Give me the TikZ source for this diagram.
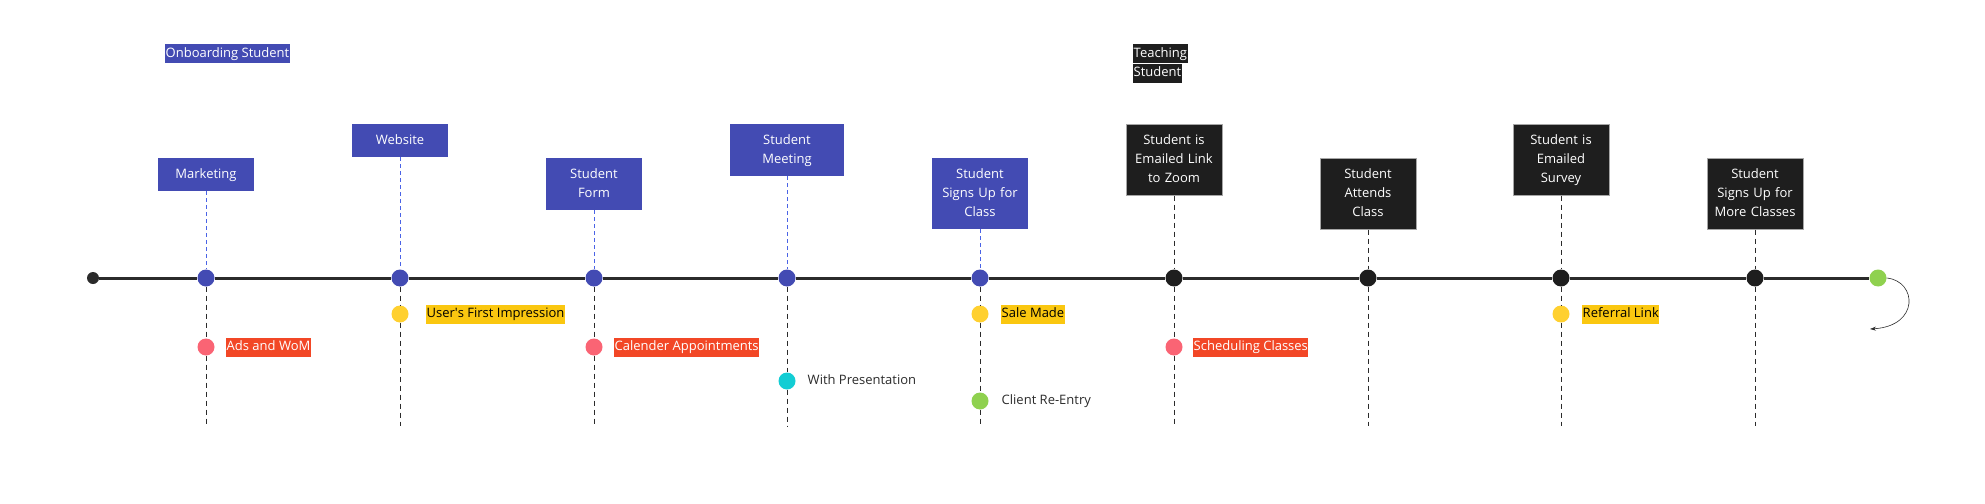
\documentclass[tikz,border=0pt]{standalone}
\usepackage{fontspec}
\setmainfont{Open Sans}
\usetikzlibrary{arrows.meta}
\definecolor{miroblue}{HTML}{434BB3}
\definecolor{dashblue}{HTML}{4A63E6}
\definecolor{boxblack}{HTML}{1E1E1E}
\definecolor{linegray}{HTML}{2B2B2B}
\definecolor{hlyellow}{HTML}{FAC710}
\definecolor{hlred}{HTML}{F24726}
\definecolor{dotred}{HTML}{FA6474}
\definecolor{dotyellow}{HTML}{FFD02F}
\definecolor{dotcyan}{HTML}{12CDD4}
\definecolor{dotgreen}{HTML}{8FD14F}
\begin{document}
\begin{tikzpicture}[x=1pt,y=-1pt,
  box/.style={text=white, font=\fontsize{13}{19}\selectfont, align=center, text width=82pt,
    inner xsep=7pt, inner ysep=7pt, anchor=north,
    execute at begin node=\strut, execute at end node=\strut},
  bluebox/.style={box, fill=miroblue},
  blackbox/.style={box, fill=boxblack, draw=gray!70, line width=0.6pt},
  hl/.style={font=\fontsize{13}{19}\selectfont, inner xsep=0.5pt, inner ysep=0pt, anchor=west,
    execute at begin node=\strut},
  dot/.style={circle, inner sep=0pt, minimum size=17pt},
  timeline/.style={linegray, line width=3pt},
  updash/.style={dashblue, dash pattern=on 4pt off 3pt, line width=0.9pt},
  downdash/.style={linegray, dash pattern=on 5pt off 4pt, line width=0.8pt}]
\useasboundingbox (0,0) rectangle (1985,503);

\node[hl, fill=miroblue, text=white, anchor=north west] (onboard) at (165,44) {Onboarding Student};
\node[hl, fill=boxblack, text=white, anchor=north west] (teachA) at (1133,44) {Teaching};
\node[hl, fill=boxblack, text=white, anchor=north west] (teachB) at (teachA.south west) {Student};

\node[bluebox] (market) at (206,158) {Marketing};
\node[bluebox] (website) at (400,124) {Website};
\node[bluebox] (form) at (594,158) {Student\\Form};
\node[bluebox, text width=100pt] (meeting) at (787,124) {Student\\Meeting};
\node[bluebox] (signup) at (980,158) {Student\\Signs Up for\\Class};
\node[blackbox] (zoomlink) at (1174,124) {Student is\\Emailed Link\\to Zoom};
\node[blackbox] (attends) at (1368,158) {Student\\Attends\\Class};
\node[blackbox] (survey) at (1561,124) {Student is\\Emailed\\Survey};
\node[blackbox] (moreclass) at (1755,158) {Student\\Signs Up for\\More Classes};

\node[dot, fill=linegray, minimum size=12pt] (start) at (93,278) {};
\node[dot, fill=miroblue] (dmarket) at (206,278) {};
\node[dot, fill=miroblue] (dwebsite) at (400,278) {};
\node[dot, fill=miroblue] (dform) at (594,278) {};
\node[dot, fill=miroblue] (dmeeting) at (787,278) {};
\node[dot, fill=miroblue] (dsignup) at (980,278) {};
\node[dot, fill=boxblack] (dzoomlink) at (1174,278) {};
\node[dot, fill=boxblack] (dattends) at (1368,278) {};
\node[dot, fill=boxblack] (dsurvey) at (1561,278) {};
\node[dot, fill=boxblack] (dmoreclass) at (1755,278) {};
\node[dot, fill=dotgreen] (dend) at (1878,278) {};

\node[dot, fill=dotred] (ads) at (206,347) {};
\node[dot, fill=dotyellow] (impress) at (400,314) {};
\node[dot, fill=dotred] (calendar) at (594,347) {};
\node[dot, fill=dotcyan] (present) at (787,381) {};
\node[dot, fill=dotyellow] (sale) at (980,314) {};
\node[dot, fill=dotgreen] (reentry) at (980,401) {};
\node[dot, fill=dotred] (schedule) at (1174,347) {};
\node[dot, fill=dotyellow] (referral) at (1561,314) {};

\node[hl, fill=hlred, text=white] (adstext) at (226,347) {Ads and WoM};
\node[hl, fill=hlyellow] (impresstext) at (426,314) {User\textquotesingle s First Impression};
\node[hl, fill=hlred, text=white] (calendartext) at (614,347) {Calender Appointments};
\node[hl, text=linegray] (presenttext) at (807,381) {With Presentation};
\node[hl, fill=hlyellow] (saletext) at (1001,314) {Sale Made};
\node[hl, text=linegray] (reentrytext) at (1001,401) {Client Re-Entry};
\node[hl, fill=hlred, text=white] (scheduletext) at (1193,347) {Scheduling Classes};
\node[hl, fill=hlyellow] (referraltext) at (1582,314) {Referral Link};

\coordinate (emarket) at (206,426);
\coordinate (ewebsite) at (400,426);
\coordinate (eform) at (594,426);
\coordinate (emeeting) at (787,426);
\coordinate (esignup) at (980,426);
\coordinate (ezoomlink) at (1174,426);
\coordinate (eattends) at (1368,426);
\coordinate (esurvey) at (1561,426);
\coordinate (emoreclass) at (1755,426);
\coordinate (back) at (1870,329);

\draw[timeline] (start) -- (dmarket) -- (dwebsite) -- (dform) -- (dmeeting) -- (dsignup)
  -- (dzoomlink) -- (dattends) -- (dsurvey) -- (dmoreclass) -- (dend);

\draw[updash] (market) -- (dmarket);
\draw[updash] (website) -- (dwebsite);
\draw[updash] (form) -- (dform);
\draw[updash] (meeting) -- (dmeeting);
\draw[updash] (signup) -- (dsignup);
\draw[downdash] (zoomlink) -- (dzoomlink);
\draw[downdash] (attends) -- (dattends);
\draw[downdash] (survey) -- (dsurvey);
\draw[downdash] (moreclass) -- (dmoreclass);

\draw[downdash] (dmarket) -- (ads) -- (emarket);
\draw[downdash] (dwebsite) -- (impress) -- (ewebsite);
\draw[downdash] (dform) -- (calendar) -- (eform);
\draw[downdash] (dmeeting) -- (present) -- (emeeting);
\draw[downdash] (dsignup) -- (sale) -- (reentry) -- (esignup);
\draw[downdash] (dzoomlink) -- (schedule) -- (ezoomlink);
\draw[downdash] (dattends) -- (eattends);
\draw[downdash] (dsurvey) -- (referral) -- (esurvey);
\draw[downdash] (dmoreclass) -- (emoreclass);

\draw[linegray, line width=0.6pt, -{Stealth[length=6pt,width=4pt]}] (dend.east) .. controls (1917,281) and (1920,326) .. (back);
\end{tikzpicture}
\end{document}
